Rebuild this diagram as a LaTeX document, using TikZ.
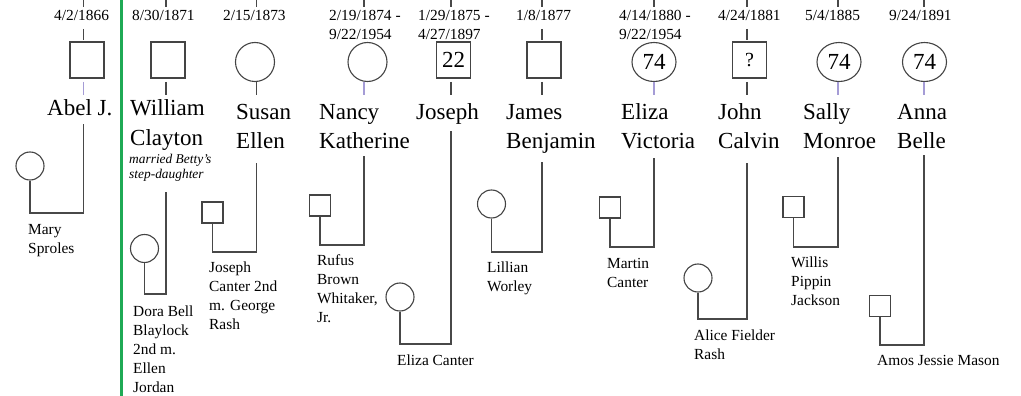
\documentclass[tikz,border=0pt]{standalone}
\usepackage{fontspec}
\setmainfont{Liberation Serif}
\usetikzlibrary{shapes.geometric}
\definecolor{linec}{HTML}{484848}
\definecolor{shapec}{HTML}{444444}
\definecolor{lav}{HTML}{A59CD6}
\definecolor{divgreen}{HTML}{1FAA55}
\newcommand\mlines[1]{\vtop{\halign{##\hfil\cr#1\crcr}}}
\tikzset{
  link/.style={draw=linec, line width=1.1pt},
  tickd/.style={draw=linec, line width=1.1pt},
  tickl/.style={draw=lav, line width=1.1pt},
  shp/.style={draw=shapec, line width=1.1pt, inner sep=0pt, font=\fontsize{23}{27}\selectfont},
  male/.style={shp, rectangle, minimum width=34pt, minimum height=36pt},
  female/.style={shp, circle, minimum size=39pt},
  femaleage/.style={shp, ellipse, minimum width=44pt, minimum height=39pt},
  smale/.style={shp, rectangle, minimum size=21pt},
  sfemale/.style={shp, circle, minimum size=28pt},
  datet/.style={font=\fontsize{15.4}{19}\selectfont, inner sep=0pt, anchor=base west},
  namet/.style={font=\fontsize{23}{29}\selectfont, inner sep=0pt, anchor=base west},
  spouset/.style={font=\fontsize{15.4}{19}\selectfont, inner sep=0pt, anchor=base west},
  notet/.style={font=\fontsize{13.4}{16}\selectfont\itshape, inner sep=0pt, anchor=base west},
}
\begin{document}
\begin{tikzpicture}[x=1pt,y=-1pt]
\fill[white] (0,0) rectangle (1021,396);
\useasboundingbox (0,0) rectangle (1021,396);

% divider
\coordinate (gtop) at (121,0);
\coordinate (gbot) at (121,396);
\draw[draw=divgreen, line width=3pt] (gtop) -- (gbot);

% line positions
\coordinate (abel) at (83.5,0);
\coordinate (will) at (166,0);
\coordinate (susan) at (256.5,0);
\coordinate (nancy) at (364,0);
\coordinate (joseph) at (451,0);
\coordinate (james) at (542,0);
\coordinate (eliza) at (654,0);
\coordinate (john) at (747,0);
\coordinate (sally) at (838,0);
\coordinate (anna) at (924,0);

% top ticks
\foreach \p in {abel,will,susan,nancy,joseph,james,eliza,john,sally,anna}
  \draw[link] (\p) -- (\p |- 0,7);

% dates
\node[datet] (d1) at (54,21) {4/2/1866};
\node[datet] (d2) at (132,21) {8/30/1871};
\node[datet] (d3) at (223,21) {2/15/1873};
\node[datet] (d4) at (329,21) {\mlines{2/19/1874 -\cr 9/22/1954}};
\node[datet] (d5) at (418,21) {\mlines{1/29/1875 -\cr 4/27/1897}};
\node[datet] (d6) at (516,21) {1/8/1877};
\node[datet] (d7) at (619,21) {\mlines{4/14/1880 -\cr 9/22/1954}};
\node[datet] (d8) at (718,21) {4/24/1881};
\node[datet] (d9) at (805,21) {5/4/1885};
\node[datet] (d10) at (889,21) {9/24/1891};

% ticks between date and shape
\foreach \p in {abel,james,john}
  \draw[link] (\p |- 0,29) -- (\p |- 0,40);

% shapes
\node[male] (abelS) at (87,60) {};
\node[male] (willS) at (168,60) {};
\node[female] (susanS) at (255,62) {};
\node[female] (nancyS) at (367.5,62) {};
\node[male] (josephS) at (453.5,60) {22};
\node[male] (jamesS) at (544,60) {};
\node[femaleage] (elizaS) at (654,62) {74};
\node[male, font=\fontsize{20}{22}\selectfont] (johnS) at (749.5,60) {?};
\node[femaleage] (sallyS) at (839,62) {74};
\node[femaleage] (annaS) at (924.5,62) {74};

% ticks below shapes
\foreach \p in {abel,nancy,eliza,sally,anna}
  \draw[tickl] (\p |- 0,82) -- (\p |- 0,95);
\foreach \p in {will,susan,joseph,james,john}
  \draw[tickd] (\p |- 0,82) -- (\p |- 0,95);

% names
\node[namet] (abelN) at (47,115) {Abel J.};
\node[namet] (willN) at (130,116) {\mlines{William\cr Clayton}};
\node[notet] (willNote) at (129,163) {\mlines{married Betty's\cr step-daughter}};
\node[namet] (susanN) at (236,119) {\mlines{Susan\cr Ellen}};
\node[namet] (nancyN) at (319,119) {\mlines{Nancy\cr Katherine}};
\node[namet] (josephN) at (416,119) {Joseph};
\node[namet] (jamesN) at (506,119) {\mlines{James\cr Benjamin}};
\node[namet] (elizaN) at (621,119) {\mlines{Eliza\cr Victoria}};
\node[namet] (johnN) at (718,119) {\mlines{John\cr Calvin}};
\node[namet] (sallyN) at (803,119) {\mlines{Sally\cr Monroe}};
\node[namet] (annaN) at (897,119) {\mlines{Anna\cr Belle}};

% spouses
\node[sfemale] (mary) at (30,166) {};
\node[sfemale] (dora) at (144.5,248.5) {};
\node[smale] (jcanter) at (212.5,212.5) {};
\node[smale] (rufus) at (320,205.5) {};
\node[sfemale] (elizac) at (400,297) {};
\node[sfemale] (lillian) at (491.5,204) {};
\node[smale] (martin) at (610,207.5) {};
\node[sfemale] (alice) at (698,278) {};
\node[smale] (willis) at (793.5,207) {};
\node[smale] (amos) at (880,306) {};

% spouse labels
\node[spouset] (maryL) at (28,234) {\mlines{Mary\cr Sproles}};
\node[spouset] (doraL) at (133,316) {\mlines{Dora Bell\cr Blaylock\cr 2nd m.\cr Ellen\cr Jordan}};
\node[spouset] (jcanterL) at (209,272.5) {\mlines{Joseph\cr Canter 2nd\cr m. George\cr Rash}};
\node[spouset] (rufusL) at (317,265.5) {\mlines{Rufus\cr Brown\cr Whitaker,\cr Jr.}};
\node[spouset] (elizacL) at (397,365) {Eliza Canter};
\node[spouset] (lillianL) at (487,272) {\mlines{Lillian\cr Worley}};
\node[spouset] (martinL) at (607,268) {\mlines{Martin\cr Canter}};
\node[spouset] (aliceL) at (694,340) {\mlines{Alice Fielder\cr Rash}};
\node[spouset] (willisL) at (791,267) {\mlines{Willis\cr Pippin\cr Jackson}};
\node[spouset] (amosL) at (877,365) {Amos Jessie Mason};

% marriage connectors
\draw[link] (abel |- 0,124) |- (mary.south |- 0,213) -- (mary.south);
\draw[link] (will |- 0,192) |- (dora.south |- 0,294) -- (dora.south);
\draw[link] (susan |- 0,163) |- (jcanter.south |- 0,252) -- (jcanter.south);
\draw[link] (nancy |- 0,156) |- (rufus.south |- 0,245) -- (rufus.south);
\draw[link] (joseph |- 0,131) |- (elizac.south |- 0,344) -- (elizac.south);
\draw[link] (james |- 0,162) |- (lillian.south |- 0,252) -- (lillian.south);
\draw[link] (eliza |- 0,158) |- (martin.south |- 0,247) -- (martin.south);
\draw[link] (john |- 0,163) |- (alice.south |- 0,319) -- (alice.south);
\draw[link] (sally |- 0,157) |- (willis.south |- 0,247) -- (willis.south);
\draw[link] (anna |- 0,155) |- (amos.south |- 0,345) -- (amos.south);
\end{tikzpicture}
\end{document}
